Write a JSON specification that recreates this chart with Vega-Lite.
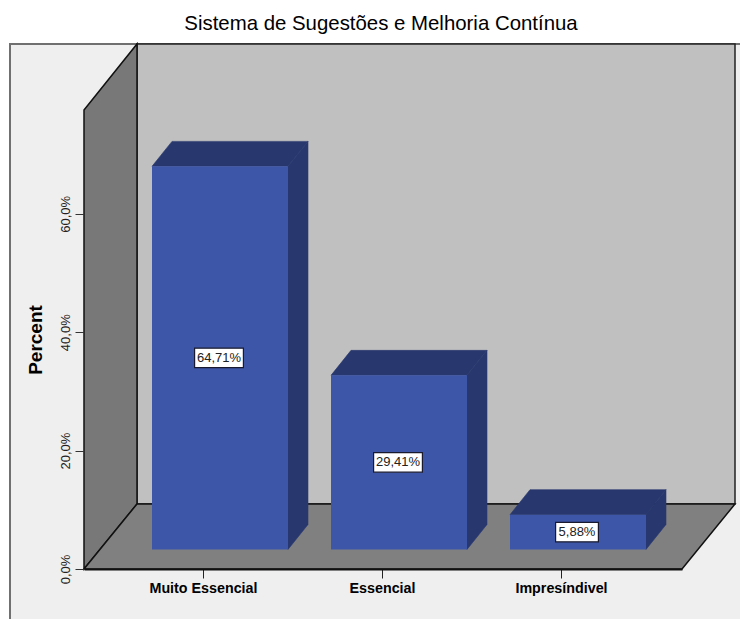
{
  "$schema": "https://vega.github.io/schema/vega-lite/v6.json",
  "width": 598,
  "height": 459,
  "autosize": "none",
  "padding": {"left": 84, "top": 110, "right": 58, "bottom": 50},
  "background": "#ffffff",
  "view": {"stroke": null},
  "title": {
    "text": "Sistema de Sugestões e Melhoria Contínua",
    "font": "Liberation Sans",
    "fontSize": 20.4,
    "fontWeight": "normal",
    "color": "#000000",
    "anchor": "middle",
    "dx": -2,
    "offset": 7
  },
  "resolve": {"axis": {"x": "independent", "y": "independent"}},
  "datasets": {
    "sugestoes": [
      {"category": "Muito Essencial", "percent": 64.71},
      {"category": "Essencial", "percent": 29.41},
      {"category": "Impresíndivel", "percent": 5.88}
    ],
    "panel": [{"x": -74, "x2": 660, "y": 88.68, "y2": -12}],
    "backWall": [{"x": 53, "x2": 651, "y": 88.68, "y2": 10.98}],
    "sideWall": [
      {"x": 0, "low": 0, "high": 77.53},
      {"x": 53, "low": 10.98, "high": 88.68}
    ],
    "floor": [
      {"y": 0, "left": 0, "right": 598},
      {"y": 10.98, "left": 53, "right": 651}
    ]
  },
  "layer": [
    {
      "data": {"name": "panel"},
      "mark": {"type": "rect", "fill": "#efefef", "stroke": "#707070", "strokeWidth": 2},
      "encoding": {
        "x": {
          "field": "x",
          "type": "quantitative",
          "scale": {"domain": [0, 598], "nice": false, "zero": false},
          "axis": {
            "values": [119, 298, 477],
            "title": null,
            "zindex": 1,
            "grid": false,
            "domainColor": "#111111",
            "domainWidth": 2,
            "tickColor": "#222222",
            "tickSize": 9,
            "tickWidth": 1,
            "labelFont": "Liberation Sans",
            "labelFontSize": 14.3,
            "labelFontWeight": "bold",
            "labelColor": "#000000",
            "labelPadding": 3,
            "labelExpr": "datum.value < 200 ? 'Muito Essencial' : datum.value < 400 ? 'Essencial' : 'Impresíndivel'"
          }
        },
        "x2": {"field": "x2"},
        "y": {
          "field": "y",
          "type": "quantitative",
          "scale": {"domain": [0, 77.53], "nice": false, "zero": false},
          "axis": {
            "values": [0, 20, 40, 60],
            "title": "Percent",
            "titleFont": "Liberation Sans",
            "titleFontSize": 19,
            "titleFontWeight": "bold",
            "titleColor": "#000000",
            "titlePadding": 14,
            "zindex": 1,
            "grid": false,
            "domain": false,
            "tickColor": "#333333",
            "tickSize": 9,
            "tickWidth": 1,
            "labelFont": "Liberation Sans",
            "labelFontSize": 13,
            "labelColor": "#222222",
            "labelAngle": -90,
            "labelAlign": "center",
            "labelBaseline": "bottom",
            "labelPadding": 3,
            "labelExpr": "replace(format(datum.value, '.1f'), '.', ',') + '%'"
          }
        },
        "y2": {"field": "y2"}
      }
    },
    {
      "data": {"name": "backWall"},
      "mark": {"type": "rect", "fill": "#c0c0c0", "stroke": "#222222", "strokeWidth": 1.5},
      "encoding": {
        "x": {"field": "x", "type": "quantitative", "axis": null},
        "x2": {"field": "x2"},
        "y": {"field": "y", "type": "quantitative", "axis": null},
        "y2": {"field": "y2"}
      }
    },
    {
      "data": {"name": "sideWall"},
      "mark": {"type": "area", "fill": "#787878", "opacity": 1, "stroke": "#111111", "strokeWidth": 1.5},
      "encoding": {
        "x": {"field": "x", "type": "quantitative", "axis": null},
        "y": {"field": "high", "type": "quantitative", "axis": null},
        "y2": {"field": "low"}
      }
    },
    {
      "data": {"name": "floor"},
      "mark": {"type": "area", "orient": "horizontal", "fill": "#808080", "opacity": 1, "stroke": "#111111", "strokeWidth": 1.5},
      "encoding": {
        "y": {"field": "y", "type": "quantitative", "axis": null},
        "x": {"field": "left", "type": "quantitative", "axis": null},
        "x2": {"field": "right"}
      }
    },
    {
      "data": {"name": "sugestoes"},
      "transform": [
        {"calculate": "indexof(['Muito Essencial', 'Essencial', 'Impresíndivel'], datum.category)", "as": "slot"},
        {"calculate": "68 + 179 * datum.slot + 136", "as": "right"},
        {"calculate": "[0, 1]", "as": "edge"},
        {"flatten": ["edge"]},
        {"calculate": "datum.right + 20 * datum.edge", "as": "px"},
        {"calculate": "3.3 + 4.22 * datum.edge", "as": "low"},
        {"calculate": "datum.low + datum.percent", "as": "high"}
      ],
      "mark": {"type": "area", "fill": "#28386f", "opacity": 1, "stroke": "#28386f", "strokeWidth": 0.6},
      "encoding": {
        "detail": {"field": "category"},
        "x": {"field": "px", "type": "quantitative", "axis": null},
        "y": {"field": "high", "type": "quantitative", "axis": null},
        "y2": {"field": "low"}
      }
    },
    {
      "data": {"name": "sugestoes"},
      "transform": [
        {"calculate": "indexof(['Muito Essencial', 'Essencial', 'Impresíndivel'], datum.category)", "as": "slot"},
        {"calculate": "68 + 179 * datum.slot", "as": "left"},
        {"calculate": "[0, 1]", "as": "edge"},
        {"flatten": ["edge"]},
        {"calculate": "datum.left + 20 * datum.edge", "as": "xLeft"},
        {"calculate": "datum.xLeft + 136", "as": "xRight"},
        {"calculate": "3.3 + datum.percent + 4.22 * datum.edge", "as": "level"}
      ],
      "mark": {"type": "area", "orient": "horizontal", "fill": "#28386f", "opacity": 1, "stroke": "#28386f", "strokeWidth": 0.6},
      "encoding": {
        "detail": {"field": "category"},
        "y": {"field": "level", "type": "quantitative", "axis": null},
        "x": {"field": "xLeft", "type": "quantitative", "axis": null},
        "x2": {"field": "xRight"}
      }
    },
    {
      "data": {"name": "sugestoes"},
      "transform": [
        {"calculate": "indexof(['Muito Essencial', 'Essencial', 'Impresíndivel'], datum.category)", "as": "slot"},
        {"calculate": "68 + 179 * datum.slot", "as": "left"},
        {"calculate": "datum.left + 136", "as": "right"},
        {"calculate": "3.3 + datum.percent", "as": "high"},
        {"calculate": "3.3", "as": "low"}
      ],
      "mark": {"type": "rect", "fill": "#3d56a8"},
      "encoding": {
        "x": {"field": "left", "type": "quantitative", "axis": null},
        "x2": {"field": "right"},
        "y": {"field": "high", "type": "quantitative", "axis": null},
        "y2": {"field": "low"}
      }
    },
    {
      "data": {"name": "sugestoes"},
      "transform": [
        {"calculate": "indexof(['Muito Essencial', 'Essencial', 'Impresíndivel'], datum.category)", "as": "slot"},
        {"calculate": "replace(format(datum.percent, '.2f'), '.', ',') + '%'", "as": "label"},
        {"calculate": "68 + 179 * datum.slot + 67", "as": "centre"},
        {"calculate": "3.3 + datum.percent / 2", "as": "middle"},
        {"calculate": "3 * length(datum.label) + 6.4", "as": "halfWidth"},
        {"calculate": "datum.centre - datum.halfWidth", "as": "boxLeft"},
        {"calculate": "datum.centre + datum.halfWidth", "as": "boxRight"},
        {"calculate": "datum.middle + 1.65", "as": "boxTop"},
        {"calculate": "datum.middle - 1.65", "as": "boxBottom"}
      ],
      "mark": {"type": "rect", "fill": "#ffffff", "stroke": "#1a1a2e", "strokeWidth": 1.2},
      "encoding": {
        "x": {"field": "boxLeft", "type": "quantitative", "axis": null},
        "x2": {"field": "boxRight"},
        "y": {"field": "boxTop", "type": "quantitative", "axis": null},
        "y2": {"field": "boxBottom"}
      }
    },
    {
      "data": {"name": "sugestoes"},
      "transform": [
        {"calculate": "indexof(['Muito Essencial', 'Essencial', 'Impresíndivel'], datum.category)", "as": "slot"},
        {"calculate": "replace(format(datum.percent, '.2f'), '.', ',') + '%'", "as": "label"},
        {"calculate": "68 + 179 * datum.slot + 67", "as": "centre"},
        {"calculate": "3.3 + datum.percent / 2", "as": "middle"}
      ],
      "mark": {"type": "text", "font": "Liberation Sans", "fontSize": 13, "color": "#222222", "align": "center", "baseline": "middle"},
      "encoding": {
        "x": {"field": "centre", "type": "quantitative", "axis": null},
        "y": {"field": "middle", "type": "quantitative", "axis": null},
        "text": {"field": "label"}
      }
    }
  ]
}
